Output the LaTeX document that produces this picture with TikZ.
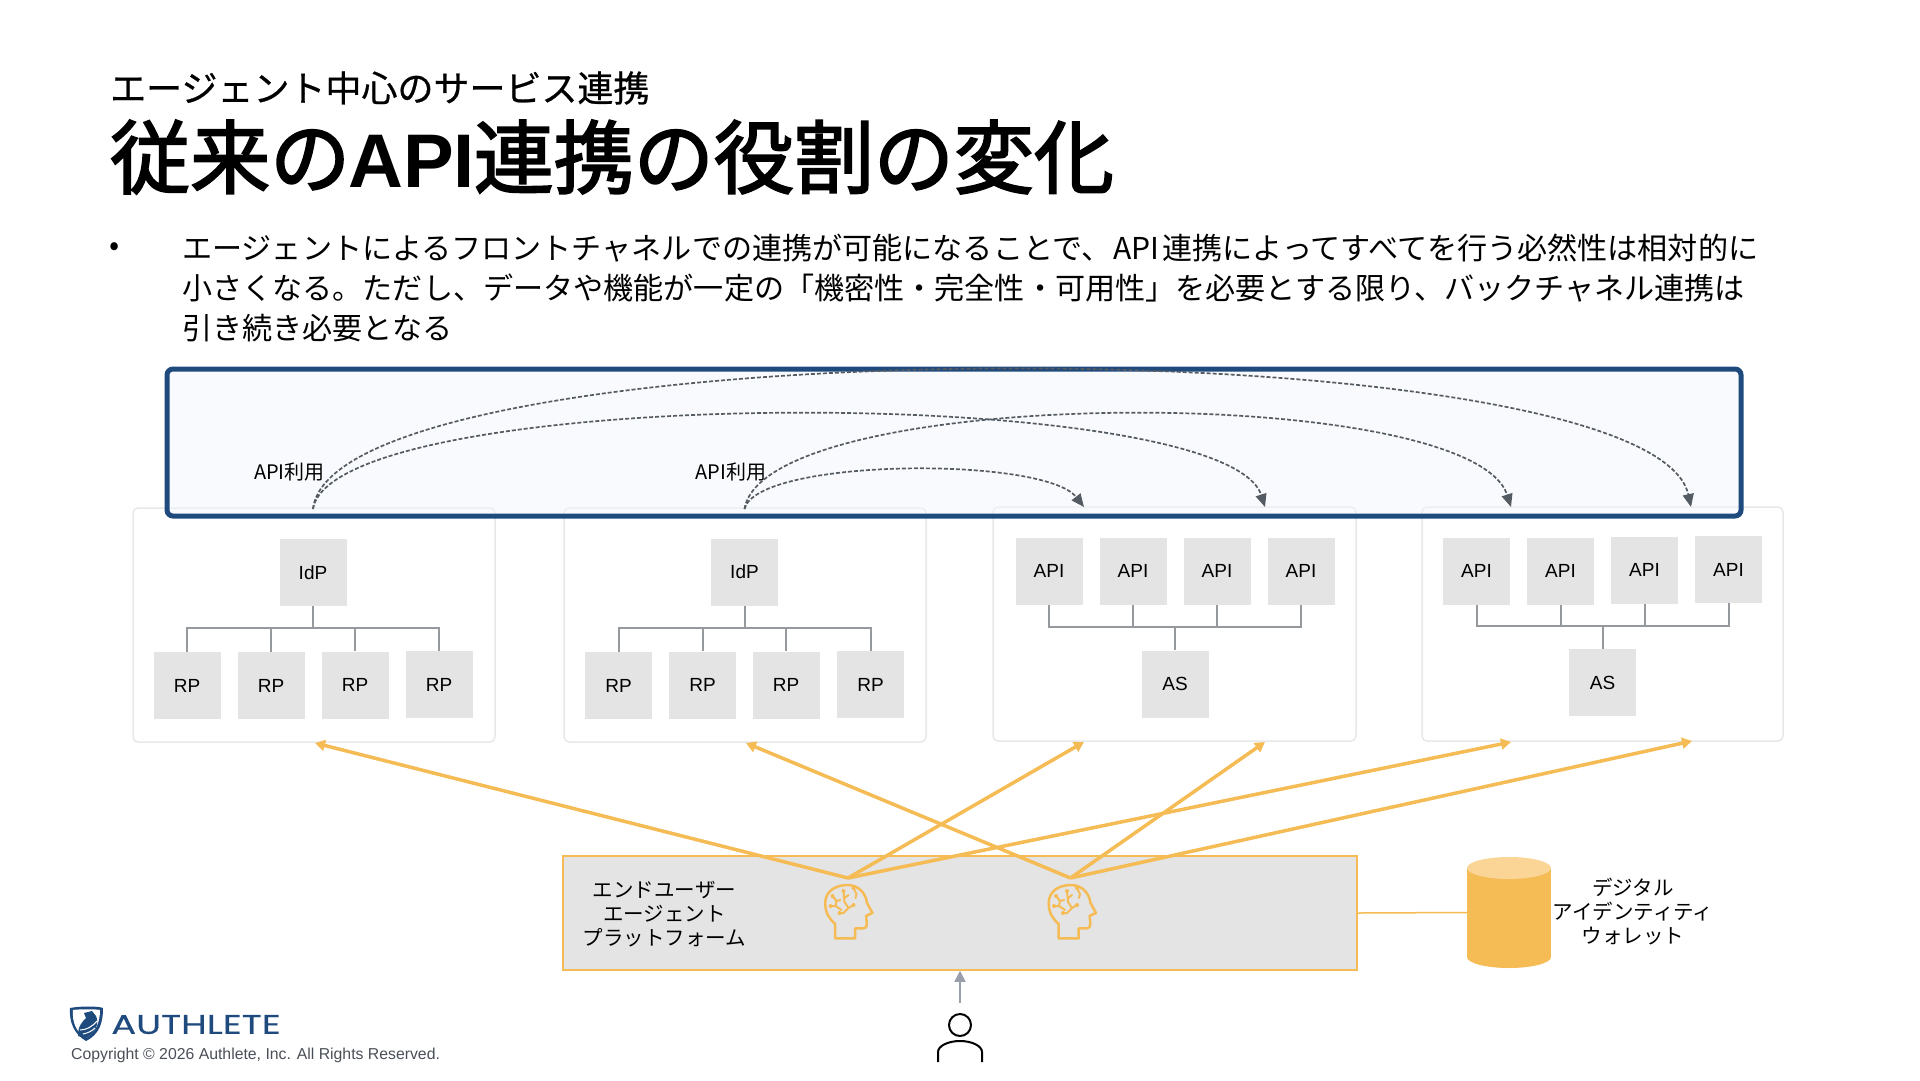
\documentclass[tikz,border=0pt]{standalone}
\usepackage{fontspec}
\usepackage{xcolor}
\setmainfont{Liberation Sans}
\newfontfamily\jpfont{Noto Sans CJK JP}
\newfontfamily\jpmedfont{Noto Sans CJK JP}[FakeBold=0.7]
\newfontfamily\jpheavyfont{Noto Sans CJK JP}[FakeBold=2.4]
\newfontfamily\logofont{Poppins}[FakeBold=0.5]
\usetikzlibrary{arrows.meta}
\definecolor{tilegray}{HTML}{E4E4E4}
\definecolor{boxline}{HTML}{E6E8EA}
\definecolor{navyline}{HTML}{1F4A7D}
\definecolor{navyfill}{HTML}{F2F6FB}
\definecolor{agentline}{HTML}{F5BB55}
\definecolor{agentlight}{HTML}{FAD596}
\definecolor{treegray}{HTML}{95989C}
\definecolor{dashgray}{HTML}{555B63}
\definecolor{usergray}{HTML}{9AA0AB}
\definecolor{copygray}{HTML}{4A4F57}
\newcommand{\fs}[1]{\fontsize{#1}{#1}\selectfont}

\begin{document}
\begin{tikzpicture}[
  x=1pt,y=-1pt,
  tile/.style={fill=tilegray, minimum width=67pt, minimum height=67pt, inner sep=0pt, font=\fs{19}},
  group/.style={draw=boxline, line width=1.5pt, rounded corners=5pt, inner sep=0pt},
  treeline/.style={draw=treegray, line width=2pt},
  apiuse/.style={draw=dashgray, line width=1.7pt, dash pattern=on 4pt off 2pt, -{Triangle[length=13pt,width=11pt,fill=dashgray]}},
  agentuse/.style={draw=agentline, line width=3.5pt, -{Triangle[length=10pt,width=11pt]}},
  jplabel/.style={font=\jpfont\fontsize{20.5}{24}\selectfont, align=center, inner sep=0pt},
  brain/.pic={
    \draw[agentline, line width=2.5pt, line join=round] (10.7,54.3) -- (30.7,54.3) -- (30.7,44.3) -- (39,44.3)
      .. controls (41.5,44.3) and (42.3,42.5) .. (42.3,40) -- (41.7,31.7) -- (48,29) -- (42.5,19)
      .. controls (41,8) and (33,1) .. (23,1) .. controls (10,1) and (0.7,8) .. (0.7,19)
      .. controls (0.7,29) and (5,35) .. (10.7,40) -- cycle;
    \draw[agentline, line width=2pt, line cap=round, line join=round]
      (19,7) -- (20,18) -- (24,24) -- (19,29) -- (15,29)
      (24,24) -- (29,21) (20,14) -- (24,11) (8,12) -- (12,17) -- (11,22) -- (6,22)
      (11,22) -- (17,26) (12,17) -- (16,16) (29,4) -- (32,10) -- (31,14);
    \fill[agentline] (19,7) circle (2pt) (15,29) circle (2pt) (29,21) circle (2pt) (6,22) circle (2pt) (8,12) circle (2pt) (29,4) circle (2pt);
  }]
\useasboundingbox (0,0) rectangle (1920,1080);

% heading
\node[anchor=west, inner sep=0pt, font=\jpmedfont\fs{36}] (subtitle) at (110,88) {エージェント中心のサービス連携};
\node[anchor=west, inner sep=0pt, font=\jpheavyfont\fs{80}] (title) at (110,157) {従来の\hspace{-2pt}{\rmfamily\bfseries\fs{76}API}\hspace{-1pt}連携の役割の変化};
\node[anchor=center, inner sep=0pt, font=\jpfont\fs{30}] (bullet) at (115,249) {•};
\node[anchor=north west, inner sep=0pt, align=left, font=\jpfont\fontsize{30.1}{40}\selectfont] (body) at (182,234)
 {エージェントによるフロントチャネルでの連携が可能になることで、\hspace{2pt}API\hspace{3pt}連携によってすべてを行う必然性は相対的に\\
  小さくなる。ただし、データや機能が一定の「機密性・完全性・可用性」を必要とする限り、バックチャネル連携は\\
  引き続き必要となる};

% groups
\node[group, minimum width=362pt, minimum height=234pt] (grpa) at (314,625) {};
\node[group, minimum width=362pt, minimum height=234pt] (grpb) at (745,625) {};
\node[group, minimum width=363pt, minimum height=234pt] (grpc) at (1174.5,624) {};
\node[group, minimum width=361pt, minimum height=234pt] (grpd) at (1602.5,624) {};
\node[draw=navyline, line width=5pt, rounded corners=6pt, fill=navyfill, fill opacity=0.5, draw opacity=1,
  minimum width=1574pt, minimum height=147pt, inner sep=0pt] (frontch) at (954,442.5) {};

% identity providers
\node[tile] (idpa) at (313,572.5) {IdP};
\coordinate (busa) at (313,628);
\draw[treeline] (idpa) -- (busa);
\foreach \i/\cx/\cy in {1/187/685.5,2/271/685.5,3/355/685,4/439/684.5} {
  \node[tile] (rpa\i) at (\cx,\cy) {RP};
  \draw[treeline] (busa) -| (rpa\i.north);
}
\node[tile] (idpb) at (744.5,572) {IdP};
\coordinate (busb) at (744.5,628);
\draw[treeline] (idpb) -- (busb);
\foreach \i/\cx/\cy in {1/618.5/685.5,2/702.5/685,3/786/685,4/870.5/684.5} {
  \node[tile] (rpb\i) at (\cx,\cy) {RP};
  \draw[treeline] (busb) -| (rpb\i.north);
}

% resource servers
\node[tile] (asc) at (1175,684) {AS};
\coordinate (busc) at (1175,627);
\draw[treeline] (asc) -- (busc);
\foreach \i/\cx/\cy in {1/1049/571,2/1133/571,3/1217/571,4/1301/571} {
  \node[tile] (apic\i) at (\cx,\cy) {API};
  \draw[treeline] (busc) -| (apic\i.south);
}
\node[tile] (asd) at (1602.5,682.5) {AS};
\coordinate (busd) at (1602.5,626);
\draw[treeline] (asd) -- (busd);
\foreach \i/\cx/\cy in {1/1476.5/571,2/1560.5/571,3/1644.5/570,4/1728.5/569.5} {
  \node[tile] (apid\i) at (\cx,\cy) {API};
  \draw[treeline] (busd) -| (apid\i.south);
}

% back channel
\coordinate (srca) at (313,509);
\coordinate (srcb) at (744.5,509);
\coordinate (dstc1) at (1084,507);
\coordinate (dstc2) at (1265,507);
\coordinate (dstd1) at (1511,507);
\coordinate (dstd2) at (1691,507);
\node[font=\jpfont\fs{20}, inner sep=0pt] (usea) at (289.5,472) {API利用};
\node[font=\jpfont\fs{20}, inner sep=0pt] (useb) at (731,472) {API利用};
\draw[apiuse] (srca) .. controls +(20,-184) and +(-40,-184) .. (dstd2);
\draw[apiuse] (srca) .. controls +(20,-125) and +(-40,-125) .. (dstc2);
\draw[apiuse] (srcb) .. controls +(20,-125) and +(-40,-125) .. (dstd1);
\draw[apiuse] (srcb) .. controls +(12,-51) and +(-40,-51) .. (dstc1);

% platform
\node[draw=agentline, line width=1.5pt, fill=tilegray, minimum width=794pt, minimum height=114pt, inner sep=0pt] (platform) at (960,913) {};
\node[jplabel] (platlabel) at (664.5,914) {エンドユーザー\\エージェント\\プラットフォーム};
\pic at (824.5,884) {brain};
\pic at (1048,884) {brain};
\coordinate (agta) at (848,878);
\coordinate (agtb) at (1070.5,878);
\coordinate (epa) at (315,743);
\coordinate (epb) at (746,743);
\coordinate (epc1) at (1084,742);
\coordinate (epc2) at (1265,742);
\coordinate (epd1) at (1511,742);
\coordinate (epd2) at (1692,741);
\foreach \a/\b in {agta/epa,agta/epc1,agta/epd1,agtb/epb,agtb/epc2,agtb/epd2}
  \draw[agentuse] (\a) -- (\b);

% wallet
\fill[agentline] (1509,957) ellipse [x radius=42, y radius=11];
\node[fill=agentline, minimum width=84pt, minimum height=89pt, inner sep=0pt] (wallet) at (1509,912.5) {};
\fill[agentlight] (1509,868) ellipse [x radius=42, y radius=11];
\draw[agentline, line width=1.5pt] (platform.east) -- (wallet.west);
\node[jplabel] (walletlabel) at (1633,912) {デジタル\\アイデンティティ\\ウォレット};

% user
\node[draw=black, line width=2pt, circle, minimum size=22pt, inner sep=0pt] (userhead) at (960,1025) {};
\draw[black, line width=2pt] (938,1062) -- (938,1052) .. controls (938,1046) and (948,1041) .. (960,1041)
  .. controls (972,1041) and (982,1046) .. (982,1052) -- (982,1062);
\draw[draw=usergray, line width=1.5pt, -{Triangle[length=11pt,width=11pt]}] ([yshift=10pt]userhead.north) -- (platform.south);

% footer
\fill[navyline] (70,1008) .. controls (80,1006) and (98,1006) .. (103,1008) .. controls (103,1022) and (100,1034) .. (86,1041)
  .. controls (74,1034) and (69,1022) .. (70,1008) -- cycle;
\fill[white] (73,1010) .. controls (80,1009) and (96,1009) .. (100,1010) .. controls (100,1022) and (96,1032) .. (86,1038)
  .. controls (76,1032) and (72,1022) .. (73,1010) -- cycle;
\fill[navyline] (78,1036) .. controls (78,1026) and (82,1022) .. (86,1018) -- (84,1013) -- (92,1011) -- (96,1016)
  .. controls (100,1024) and (94,1034) .. (86,1038) -- cycle;
\draw[white, line width=1pt] (80,1030) .. controls (86,1030) and (92,1027) .. (97,1021) (83,1034) .. controls (88,1033) and (92,1031) .. (95,1028);
\node[anchor=west, inner sep=0pt, text=navyline, font=\logofont\fs{27}, xscale=1.37, transform shape] (logo) at (111,1024.5) {AUTHLETE};
\node[anchor=west, inner sep=0pt, text=copygray, font=\fs{15.8}] (copy) at (71,1055) {Copyright © 2026 Authlete, Inc. All Rights Reserved.};
\end{tikzpicture}
\end{document}
